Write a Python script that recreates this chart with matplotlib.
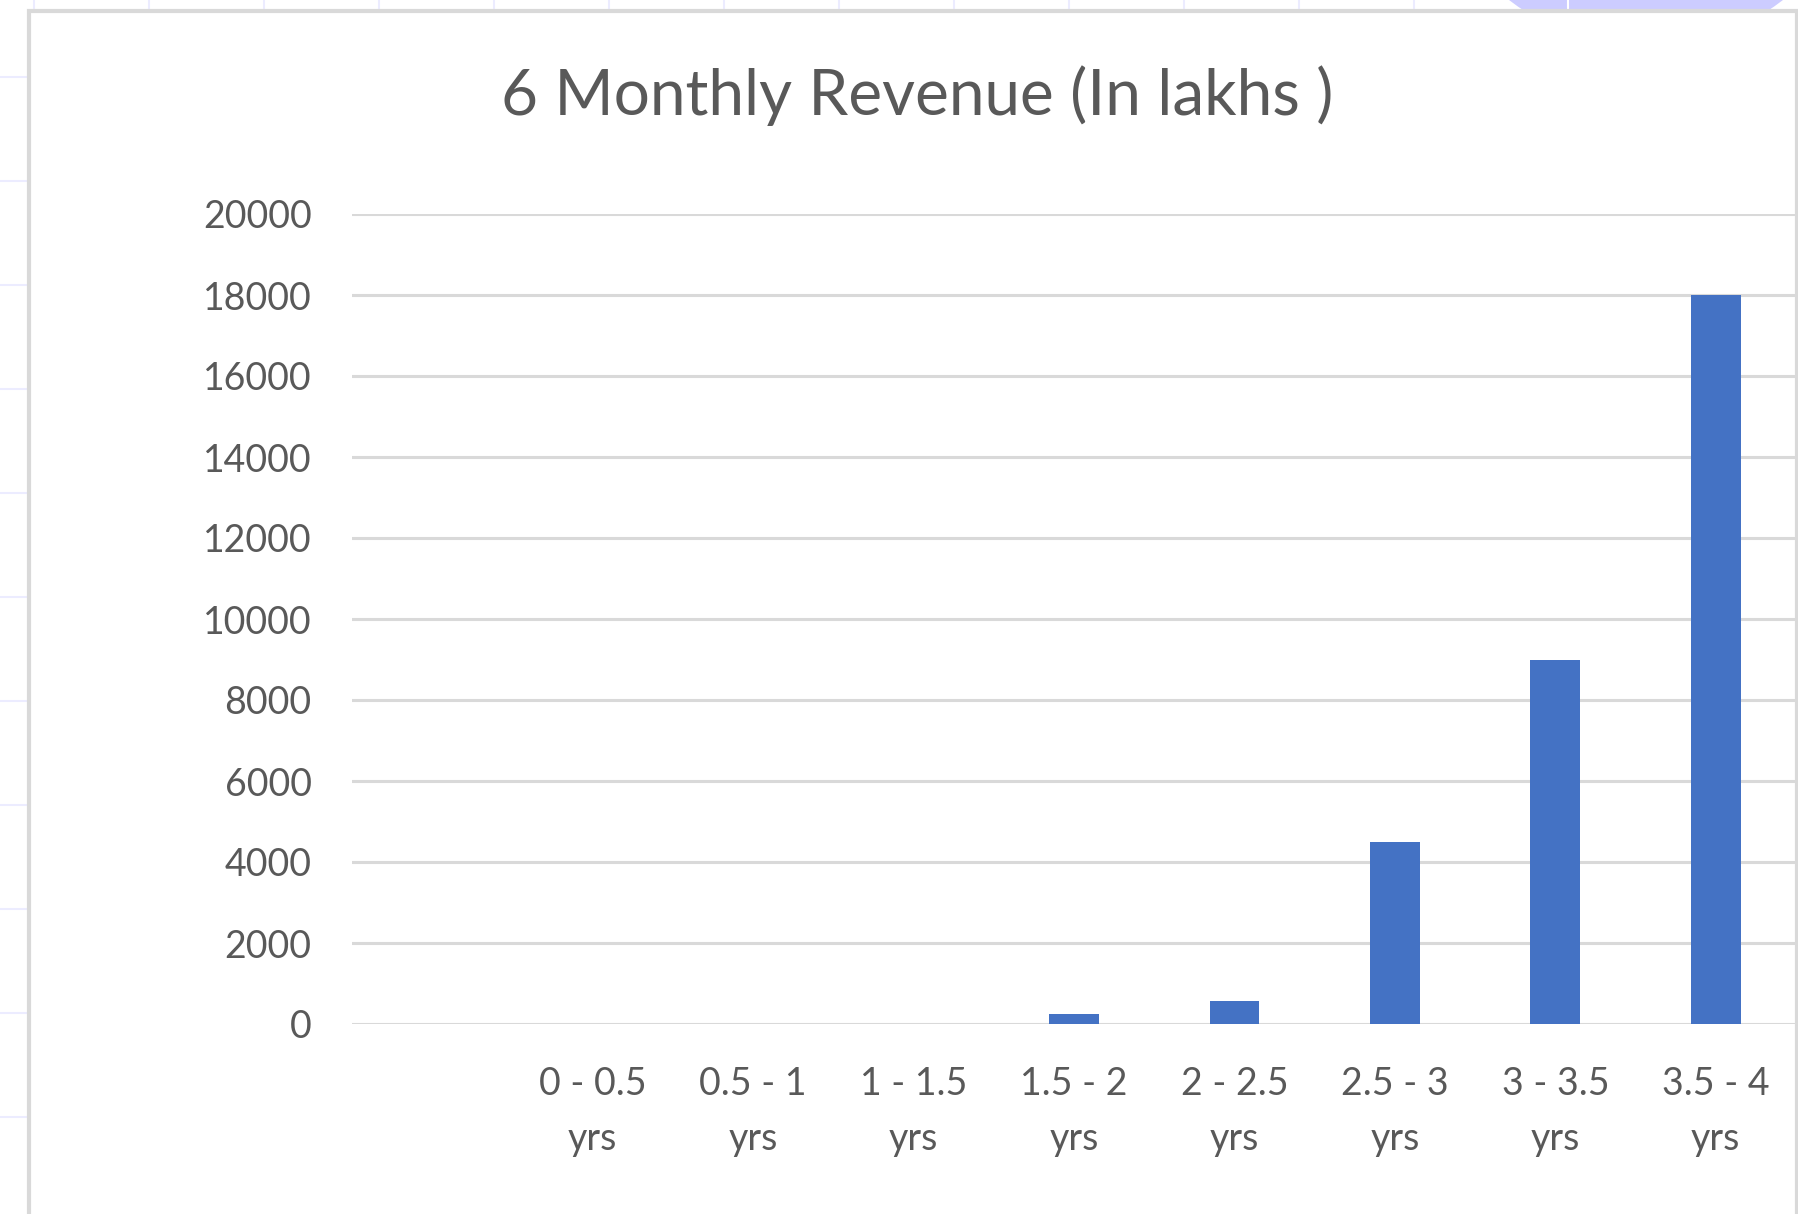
import numpy as np
import matplotlib
matplotlib.use("Agg")
import matplotlib.pyplot as plt
from matplotlib.patches import Rectangle, Ellipse
from matplotlib.lines import Line2D

# --- data ---
categories = ["", "0 - 0.5\nyrs", "0.5 - 1\nyrs", "1 - 1.5\nyrs", "1.5 - 2\nyrs",
              "2 - 2.5\nyrs", "2.5 - 3\nyrs", "3 - 3.5\nyrs", "3.5 - 4\nyrs"]
revenue = [0, 0, 0, 0, 250, 580, 4500, 9000, 18000]
y_ticks = list(range(0, 20001, 2000))
title = "6 Monthly Revenue (In lakhs )"

W, H = 1799, 1214
plt.rcParams["font.family"] = ["Lato", "DejaVu Sans"]
text_color = "#595959"
grid_color = "#d9d9d9"
bar_color = "#4472c4"


def fx(x):
    return x / W


def fy(y):
    return 1 - y / H


fig = plt.figure(figsize=(W / 100, H / 100), dpi=100)
fig.patch.set_facecolor("white")

# spreadsheet cells behind the chart
for x in [34, 149, 264, 379, 494, 609, 724, 839, 954, 1069, 1184, 1299, 1414]:
    fig.add_artist(Line2D([fx(x), fx(x)], [fy(0), fy(12)], color="#ececff", lw=1.5, zorder=0))
for y in [77, 181, 285, 389, 493, 597, 701, 805, 909, 1013, 1117]:
    fig.add_artist(Line2D([fx(0), fx(27)], [fy(y), fy(y)], color="#ececff", lw=1.5, zorder=0))
# shape peeking out above the chart, top right
fig.add_artist(Ellipse((fx(1646), fy(-176)), 446 / W, 446 / H, facecolor="#ccccff",
                       edgecolor="none", zorder=0.5, transform=fig.transFigure))
fig.add_artist(Line2D([fx(1568), fx(1568)], [fy(0), fy(12)], color="white", lw=1.5, zorder=0.6))

# chart area with grey border
fig.add_artist(Rectangle((fx(29), fy(1220)), fx(1797) - fx(29), fy(11) - fy(1220),
                         facecolor="white", edgecolor=grid_color, lw=3, zorder=1))

ax = fig.add_axes([fx(352), fy(1024), fx(1796) - fx(352), fy(214) - fy(1024)])
ax.set_zorder(2)
ax.patch.set_alpha(0)

x = np.arange(len(categories))
ax.bar(x, revenue, width=0.31, color=bar_color, zorder=3)

ax.set_xlim(-0.5, len(categories) - 0.5)
ax.set_ylim(0, 20000)
ax.set_yticks(y_ticks)
ax.set_yticklabels([str(v) for v in y_ticks])
ax.set_xticks(x)
ax.set_xticklabels(categories, linespacing=1.64)
for ytick in y_ticks:
    ax.axhline(ytick, color=grid_color, lw=2.2, zorder=1)

for s in ax.spines.values():
    s.set_visible(False)
ax.tick_params(axis="both", length=0, labelsize=27, labelcolor=text_color)
ax.tick_params(axis="y", pad=29)
ax.tick_params(axis="x", pad=30.5)

fig.text(fx(917), fy(115), title, ha="center", va="baseline", fontsize=46,
         color=text_color, zorder=3)

fig.savefig("out.png", dpi=100)
